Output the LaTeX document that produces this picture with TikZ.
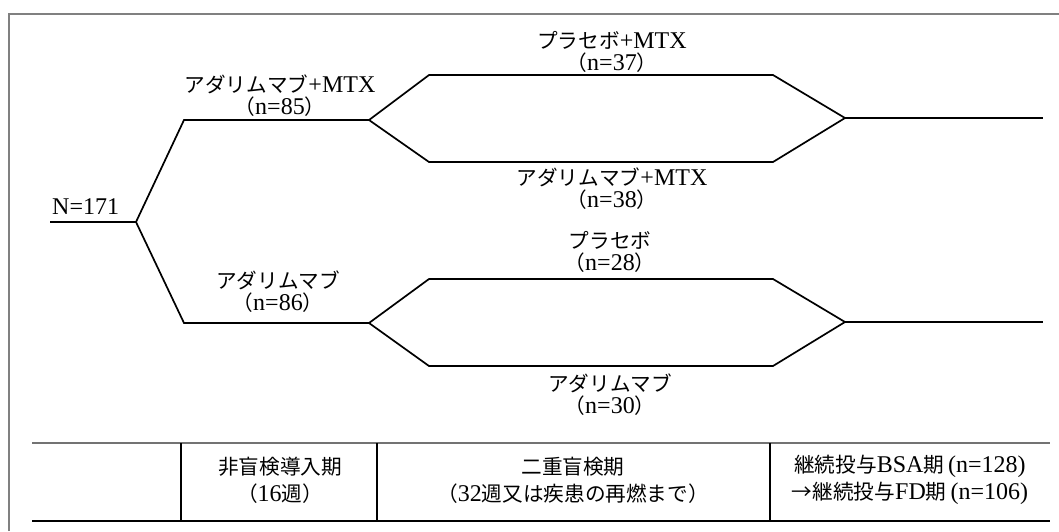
\documentclass[tikz,border=0pt]{standalone}
\usepackage{fontspec}
\setmainfont{Liberation Serif}
\newfontfamily\jp{Noto Sans CJK JP}[Scale=0.86]
\newcommand{\J}[1]{{\jp #1}}
\tikzset{
  frameline/.style={draw=black!50, line width=2pt},
  arm/.style={draw=black, line width=1.7pt, line join=miter},
  lbl/.style={align=center, inner sep=0pt, font=\fontsize{24}{22}\selectfont},
  tbl/.style={align=center, inner sep=0pt, font=\fontsize{24}{27}\selectfont},
  grid/.style={draw=black, line width=1.2pt},
  gridtop/.style={draw=black!55, line width=2pt},
}
\begin{document}
\begin{tikzpicture}[x=1pt,y=-1pt]
\useasboundingbox (0,0) rectangle (1059,531);
% frame
\coordinate (fbl) at (9,531);
\coordinate (ftl) at (9,14);
\coordinate (ftr) at (1059,14);
\draw[frameline] (fbl) -- (ftl) -- (ftr);
% junctions
\coordinate (s)  at (50,222);
\coordinate (j0) at (136,222);
\coordinate (a1) at (184,120);
\coordinate (a2) at (369,120);
\coordinate (u1) at (429,75);
\coordinate (u2) at (773,75);
\coordinate (l1) at (429,162);
\coordinate (l2) at (773,162);
\coordinate (m1) at (845,118);
\coordinate (e1) at (1043,118);
\coordinate (b1) at (184,323);
\coordinate (b2) at (369,323);
\coordinate (p1) at (429,279);
\coordinate (p2) at (773,279);
\coordinate (q1) at (429,366);
\coordinate (q2) at (773,366);
\coordinate (m2) at (845,322);
\coordinate (e2) at (1043,322);
\draw[arm] (s) -- (j0) -- (a1) -- (a2) -- (u1) -- (u2) -- (m1) -- (l2) -- (l1) -- (a2);
\draw[arm] (m1) -- (e1);
\draw[arm] (j0) -- (b1) -- (b2) -- (p1) -- (p2) -- (m2) -- (q2) -- (q1) -- (b2);
\draw[arm] (m2) -- (e2);
% labels
\node[lbl, anchor=base west] (n171) at (52,214) {N=171};
\node[lbl] (g1) at (280,96) {\J{アダリムマブ}+MTX\\\J{（}n=85\J{）}};
\node[lbl] (g2) at (278,292) {\J{アダリムマブ}\\\J{（}n=86\J{）}};
\node[lbl] (g11) at (612,52) {\J{プラセボ}+MTX\\\J{（}n=37\J{）}};
\node[lbl] (g12) at (612,189) {\J{アダリムマブ}+MTX\\\J{（}n=38\J{）}};
\node[lbl] (g21) at (610,252) {\J{プラセボ}\\\J{（}n=28\J{）}};
\node[lbl] (g22) at (610,395) {\J{アダリムマブ}\\\J{（}n=30\J{）}};
% table
\coordinate (t1) at (32,443);
\coordinate (t2) at (1050,443);
\coordinate (t3) at (32,521);
\coordinate (t4) at (1050,521);
\coordinate (v1t) at (181,443); \coordinate (v1b) at (181,521);
\coordinate (v2t) at (377,443); \coordinate (v2b) at (377,521);
\coordinate (v3t) at (770,443); \coordinate (v3b) at (770,521);
\draw[gridtop] (t1) -- (t2);
\draw[grid] (t3) -- (t4);
\draw[grid] (v1t) -- (v1b);
\draw[grid] (v2t) -- (v2b);
\draw[grid] (v3t) -- (v3b);
\node[tbl] (c1) at (280,480) {\J{非盲検導入期}\\\J{（}16\J{週）}};
\node[tbl] (c2) at (573,480) {\J{二重盲検期}\\\J{（}32\J{週又は疾患の再燃まで）}};
\node[tbl] (c3) at (910,480) {\J{継続投与}BSA\J{期}\,(n=128)\\\J{→継続投与}FD\J{期}\,(n=106)};
\end{tikzpicture}
\end{document}
